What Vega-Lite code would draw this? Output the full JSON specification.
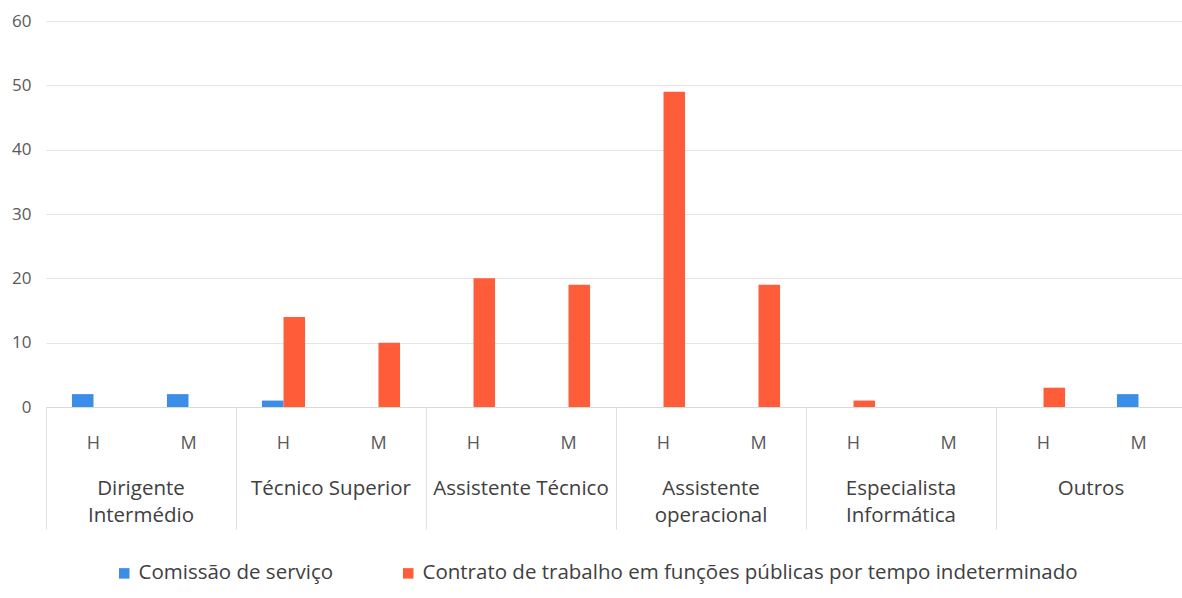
{
  "$schema": "https://vega.github.io/schema/vega-lite/v6.json",
  "width": 1140,
  "height": 386,
  "padding": {"left": 11, "top": 12, "right": 0, "bottom": 0},
  "config": {
    "font": "Open Sans",
    "view": {"stroke": null},
    "axis": {"labelColor": "#595959", "labelFont": "Open Sans"},
    "legend": {"labelFont": "Open Sans"}
  },
  "data": {
    "values": [
      {"group": "Dirigente Intermédio", "cat": "Dirigente Intermédio|H", "series": "Comissão de serviço", "value": 2},
      {"group": "Dirigente Intermédio", "cat": "Dirigente Intermédio|M", "series": "Comissão de serviço", "value": 2},
      {"group": "Técnico Superior", "cat": "Técnico Superior|H", "series": "Comissão de serviço", "value": 1},
      {"group": "Técnico Superior", "cat": "Técnico Superior|H", "series": "Contrato de trabalho em funções públicas por tempo indeterminado", "value": 14},
      {"group": "Técnico Superior", "cat": "Técnico Superior|M", "series": "Contrato de trabalho em funções públicas por tempo indeterminado", "value": 10},
      {"group": "Assistente Técnico", "cat": "Assistente Técnico|H", "series": "Contrato de trabalho em funções públicas por tempo indeterminado", "value": 20},
      {"group": "Assistente Técnico", "cat": "Assistente Técnico|M", "series": "Contrato de trabalho em funções públicas por tempo indeterminado", "value": 19},
      {"group": "Assistente operacional", "cat": "Assistente operacional|H", "series": "Contrato de trabalho em funções públicas por tempo indeterminado", "value": 49},
      {"group": "Assistente operacional", "cat": "Assistente operacional|M", "series": "Contrato de trabalho em funções públicas por tempo indeterminado", "value": 19},
      {"group": "Especialista Informática", "cat": "Especialista Informática|H", "series": "Contrato de trabalho em funções públicas por tempo indeterminado", "value": 1},
      {"group": "Especialista Informática", "cat": "Especialista Informática|M", "series": "Contrato de trabalho em funções públicas por tempo indeterminado", "value": 0},
      {"group": "Outros", "cat": "Outros|H", "series": "Contrato de trabalho em funções públicas por tempo indeterminado", "value": 3},
      {"group": "Outros", "cat": "Outros|M", "series": "Comissão de serviço", "value": 2}
    ]
  },
  "layer": [
    {
      "mark": {"type": "bar"},
      "encoding": {
        "x": {
          "field": "cat",
          "type": "nominal",
          "scale": {
            "domain": ["Dirigente Intermédio|H", "Dirigente Intermédio|M", "Técnico Superior|H", "Técnico Superior|M", "Assistente Técnico|H", "Assistente Técnico|M", "Assistente operacional|H", "Assistente operacional|M", "Especialista Informática|H", "Especialista Informática|M", "Outros|H", "Outros|M"],
            "paddingInner": 0.546,
            "paddingOuter": 0.273
          },
          "axis": {
            "title": null,
            "orient": "bottom",
            "labelExpr": "split(datum.label, '|')[1]",
            "labelAngle": 0,
            "labelFontSize": 18,
            "labelPadding": 27,
            "ticks": false,
            "domain": true,
            "domainColor": "#d9d9d9",
            "grid": false
          }
        },
        "xOffset": {
          "field": "series",
          "type": "nominal",
          "scale": {"domain": ["Comissão de serviço", "Contrato de trabalho em funções públicas por tempo indeterminado"], "paddingInner": 0, "paddingOuter": 0}
        },
        "y": {
          "field": "value",
          "type": "quantitative",
          "scale": {"domain": [0, 60], "nice": false},
          "axis": {
            "title": null,
            "values": [0, 10, 20, 30, 40, 50, 60],
            "labelFontSize": 17,
            "labelPadding": 15,
            "ticks": false,
            "domain": false,
            "grid": true,
            "gridColor": "#e4e4e4"
          }
        },
        "color": {
          "field": "series",
          "type": "nominal",
          "scale": {"domain": ["Comissão de serviço", "Contrato de trabalho em funções públicas por tempo indeterminado"], "range": ["#3b8ee8", "#ff5c3a"]},
          "legend": {
            "title": null,
            "orient": "none",
            "legendX": 68,
            "legendY": 542,
            "direction": "horizontal",
            "symbolType": "square",
            "symbolSize": 110,
            "labelFontSize": 20.5,
            "labelColor": "#404040",
            "labelLimit": 900,
            "columnPadding": 64
          }
        }
      }
    },
    {
      "mark": {"type": "bar", "opacity": 0},
      "encoding": {
        "x": {
          "field": "group",
          "type": "nominal",
          "sort": null,
          "scale": {"domain": ["Dirigente Intermédio", "Técnico Superior", "Assistente Técnico", "Assistente operacional", "Especialista Informática", "Outros"], "paddingInner": 0, "paddingOuter": 0},
          "axis": {
            "title": null,
            "orient": "bottom",
            "labelExpr": "datum.label == 'Dirigente Intermédio' ? ['Dirigente', 'Intermédio'] : datum.label == 'Assistente operacional' ? ['Assistente', 'operacional'] : datum.label == 'Especialista Informática' ? ['Especialista', 'Informática'] : datum.label",
            "labelAngle": 0,
            "labelFontSize": 20.5,
            "labelLineHeight": 27,
            "labelBaseline": "top",
            "labelPadding": -51,
            "labelColor": "#404040",
            "ticks": true,
            "bandPosition": 0,
            "tickSize": 122,
            "tickColor": "#e0e0e0",
            "domain": false,
            "grid": false
          }
        }
      }
    }
  ],
  "resolve": {"scale": {"x": "independent"}}
}
